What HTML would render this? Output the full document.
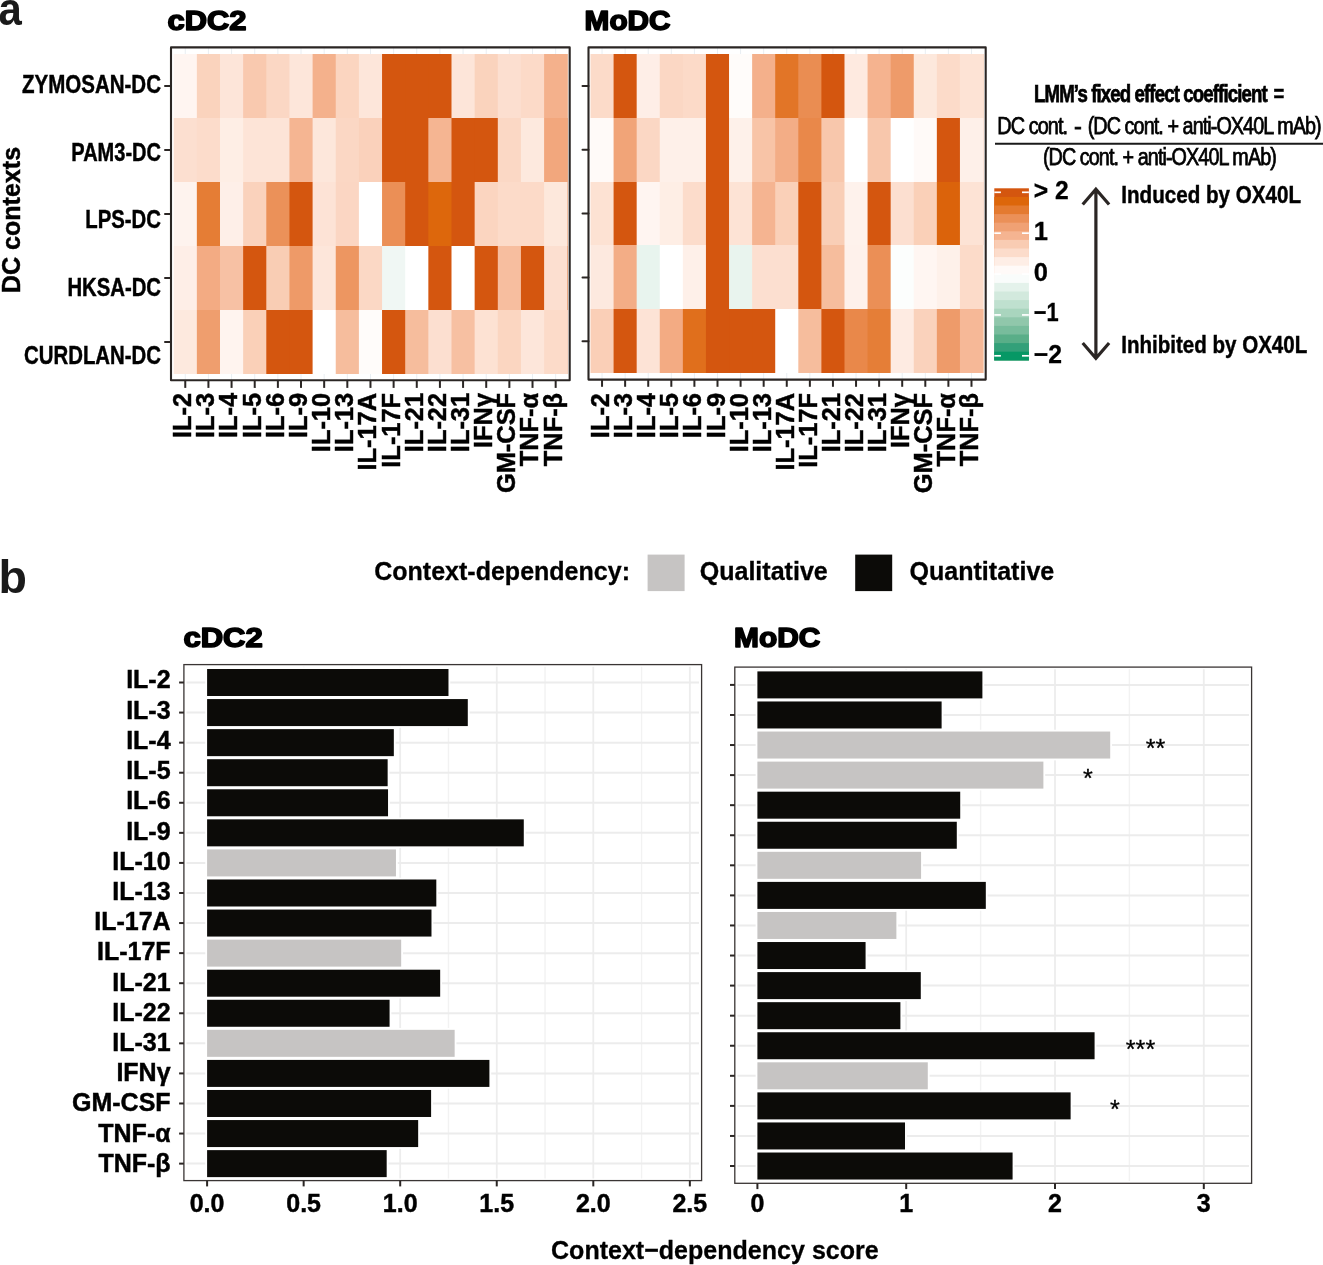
<!DOCTYPE html>
<html><head><meta charset="utf-8"><title>Figure</title>
<style>
html,body{margin:0;padding:0;background:#fff;}
body{width:1323px;height:1265px;overflow:hidden;font-family:"Liberation Sans",sans-serif;}
svg{display:block;font-family:"Liberation Sans",sans-serif;will-change:transform;}
</style></head><body>
<svg width="1323" height="1265" viewBox="0 0 1323 1265">
<rect x="0" y="0" width="1323" height="1265" fill="#fff"/>
<rect x="171.0" y="47.4" width="398.70000000000005" height="332.90000000000003" fill="#fff"/>
<line x1="185.27" y1="47.4" x2="185.27" y2="380.3" stroke="#E9EEF2" stroke-width="1"/>
<line x1="208.42" y1="47.4" x2="208.42" y2="380.3" stroke="#E9EEF2" stroke-width="1"/>
<line x1="231.57" y1="47.4" x2="231.57" y2="380.3" stroke="#E9EEF2" stroke-width="1"/>
<line x1="254.72" y1="47.4" x2="254.72" y2="380.3" stroke="#E9EEF2" stroke-width="1"/>
<line x1="277.88" y1="47.4" x2="277.88" y2="380.3" stroke="#E9EEF2" stroke-width="1"/>
<line x1="301.02" y1="47.4" x2="301.02" y2="380.3" stroke="#E9EEF2" stroke-width="1"/>
<line x1="324.17" y1="47.4" x2="324.17" y2="380.3" stroke="#E9EEF2" stroke-width="1"/>
<line x1="347.32" y1="47.4" x2="347.32" y2="380.3" stroke="#E9EEF2" stroke-width="1"/>
<line x1="370.47" y1="47.4" x2="370.47" y2="380.3" stroke="#E9EEF2" stroke-width="1"/>
<line x1="393.62" y1="47.4" x2="393.62" y2="380.3" stroke="#E9EEF2" stroke-width="1"/>
<line x1="416.77" y1="47.4" x2="416.77" y2="380.3" stroke="#E9EEF2" stroke-width="1"/>
<line x1="439.92" y1="47.4" x2="439.92" y2="380.3" stroke="#E9EEF2" stroke-width="1"/>
<line x1="463.07" y1="47.4" x2="463.07" y2="380.3" stroke="#E9EEF2" stroke-width="1"/>
<line x1="486.22" y1="47.4" x2="486.22" y2="380.3" stroke="#E9EEF2" stroke-width="1"/>
<line x1="509.37" y1="47.4" x2="509.37" y2="380.3" stroke="#E9EEF2" stroke-width="1"/>
<line x1="532.52" y1="47.4" x2="532.52" y2="380.3" stroke="#E9EEF2" stroke-width="1"/>
<line x1="555.67" y1="47.4" x2="555.67" y2="380.3" stroke="#E9EEF2" stroke-width="1"/>
<rect x="173.70" y="54" width="393.55" height="64" fill="#FFF5F1"/>
<rect x="196.85" y="54" width="370.40" height="64" fill="#FAD3BD"/>
<rect x="220.00" y="54" width="347.25" height="64" fill="#FDE5D9"/>
<rect x="243.15" y="54" width="324.10" height="64" fill="#F9C9AF"/>
<rect x="266.30" y="54" width="300.95" height="64" fill="#FBD7C4"/>
<rect x="289.45" y="54" width="277.80" height="64" fill="#FDE6DA"/>
<rect x="312.60" y="54" width="254.65" height="64" fill="#F4B18C"/>
<rect x="335.75" y="54" width="231.50" height="64" fill="#FBD5C0"/>
<rect x="358.90" y="54" width="208.35" height="64" fill="#FDE6DA"/>
<rect x="382.05" y="54" width="185.20" height="64" fill="#D4560F"/>
<rect x="405.20" y="54" width="162.05" height="64" fill="#D4560F"/>
<rect x="428.35" y="54" width="138.90" height="64" fill="#D4560F"/>
<rect x="451.50" y="54" width="115.75" height="64" fill="#FDE5D9"/>
<rect x="474.65" y="54" width="92.60" height="64" fill="#FAD3BD"/>
<rect x="497.80" y="54" width="69.45" height="64" fill="#FCDFD0"/>
<rect x="520.95" y="54" width="46.30" height="64" fill="#FCDAC8"/>
<rect x="544.10" y="54" width="23.15" height="64" fill="#F4B18C"/>
<rect x="173.70" y="118" width="393.55" height="64" fill="#FCDFD0"/>
<rect x="196.85" y="118" width="370.40" height="64" fill="#FCDCCB"/>
<rect x="220.00" y="118" width="347.25" height="64" fill="#FEEEE5"/>
<rect x="243.15" y="118" width="324.10" height="64" fill="#FDE4D7"/>
<rect x="266.30" y="118" width="300.95" height="64" fill="#FDE4D7"/>
<rect x="289.45" y="118" width="277.80" height="64" fill="#F5B592"/>
<rect x="312.60" y="118" width="254.65" height="64" fill="#FDE7DB"/>
<rect x="335.75" y="118" width="231.50" height="64" fill="#FBD7C4"/>
<rect x="358.90" y="118" width="208.35" height="64" fill="#FAD1BB"/>
<rect x="382.05" y="118" width="185.20" height="64" fill="#D4560F"/>
<rect x="405.20" y="118" width="162.05" height="64" fill="#D4560F"/>
<rect x="428.35" y="118" width="138.90" height="64" fill="#F5B592"/>
<rect x="451.50" y="118" width="115.75" height="64" fill="#D4560F"/>
<rect x="474.65" y="118" width="92.60" height="64" fill="#D4560F"/>
<rect x="497.80" y="118" width="69.45" height="64" fill="#FBD8C5"/>
<rect x="520.95" y="118" width="46.30" height="64" fill="#FDE9DE"/>
<rect x="544.10" y="118" width="23.15" height="64" fill="#F2A77D"/>
<rect x="173.70" y="182" width="393.55" height="64" fill="#FEF3EE"/>
<rect x="196.85" y="182" width="370.40" height="64" fill="#E57D35"/>
<rect x="220.00" y="182" width="347.25" height="64" fill="#FEEFE8"/>
<rect x="243.15" y="182" width="324.10" height="64" fill="#FAD2BC"/>
<rect x="266.30" y="182" width="300.95" height="64" fill="#EB9159"/>
<rect x="289.45" y="182" width="277.80" height="64" fill="#D4560F"/>
<rect x="312.60" y="182" width="254.65" height="64" fill="#FDE3D6"/>
<rect x="335.75" y="182" width="231.50" height="64" fill="#FBD6C3"/>
<rect x="358.90" y="182" width="208.35" height="64" fill="#FFFFFF"/>
<rect x="382.05" y="182" width="185.20" height="64" fill="#EB8F56"/>
<rect x="405.20" y="182" width="162.05" height="64" fill="#D4560F"/>
<rect x="428.35" y="182" width="138.90" height="64" fill="#DD670C"/>
<rect x="451.50" y="182" width="115.75" height="64" fill="#D4560F"/>
<rect x="474.65" y="182" width="92.60" height="64" fill="#FBD5C0"/>
<rect x="497.80" y="182" width="69.45" height="64" fill="#FCDBC9"/>
<rect x="520.95" y="182" width="46.30" height="64" fill="#FCDAC8"/>
<rect x="544.10" y="182" width="23.15" height="64" fill="#FDE8DC"/>
<rect x="173.70" y="246" width="393.55" height="64" fill="#FEEEE7"/>
<rect x="196.85" y="246" width="370.40" height="64" fill="#F3AB83"/>
<rect x="220.00" y="246" width="347.25" height="64" fill="#F7C1A4"/>
<rect x="243.15" y="246" width="324.10" height="64" fill="#D4560F"/>
<rect x="266.30" y="246" width="300.95" height="64" fill="#F9CDB4"/>
<rect x="289.45" y="246" width="277.80" height="64" fill="#EE9A68"/>
<rect x="312.60" y="246" width="254.65" height="64" fill="#FDE6DA"/>
<rect x="335.75" y="246" width="231.50" height="64" fill="#ED9661"/>
<rect x="358.90" y="246" width="208.35" height="64" fill="#FBD8C5"/>
<rect x="382.05" y="246" width="185.20" height="64" fill="#F0F7F4"/>
<rect x="405.20" y="246" width="162.05" height="64" fill="#FFFFFF"/>
<rect x="428.35" y="246" width="138.90" height="64" fill="#D4560F"/>
<rect x="451.50" y="246" width="115.75" height="64" fill="#FFFFFF"/>
<rect x="474.65" y="246" width="92.60" height="64" fill="#D4560F"/>
<rect x="497.80" y="246" width="69.45" height="64" fill="#F7BE9F"/>
<rect x="520.95" y="246" width="46.30" height="64" fill="#D4560F"/>
<rect x="544.10" y="246" width="23.15" height="64" fill="#FCDFD0"/>
<rect x="173.70" y="310" width="393.55" height="64" fill="#FDE9DE"/>
<rect x="196.85" y="310" width="370.40" height="64" fill="#EF9E6E"/>
<rect x="220.00" y="310" width="347.25" height="64" fill="#FFF4EF"/>
<rect x="243.15" y="310" width="324.10" height="64" fill="#FAD0B8"/>
<rect x="266.30" y="310" width="300.95" height="64" fill="#D4560F"/>
<rect x="289.45" y="310" width="277.80" height="64" fill="#D4560F"/>
<rect x="312.60" y="310" width="254.65" height="64" fill="#FFFFFF"/>
<rect x="335.75" y="310" width="231.50" height="64" fill="#F6BD9D"/>
<rect x="358.90" y="310" width="208.35" height="64" fill="#FFFCFA"/>
<rect x="382.05" y="310" width="185.20" height="64" fill="#D4560F"/>
<rect x="405.20" y="310" width="162.05" height="64" fill="#F6BD9D"/>
<rect x="428.35" y="310" width="138.90" height="64" fill="#FCDFD0"/>
<rect x="451.50" y="310" width="115.75" height="64" fill="#F7C0A2"/>
<rect x="474.65" y="310" width="92.60" height="64" fill="#FDE2D3"/>
<rect x="497.80" y="310" width="69.45" height="64" fill="#FBD6C1"/>
<rect x="520.95" y="310" width="46.30" height="64" fill="#FDE6DA"/>
<rect x="544.10" y="310" width="23.15" height="64" fill="#FCDBC9"/>
<rect x="171.0" y="47.4" width="398.70000000000005" height="332.90000000000003" fill="none" stroke="#2B2624" stroke-width="2.1" stroke-linejoin="round"/>
<line x1="165.0" y1="86.10" x2="171.0" y2="86.10" stroke="#2B2624" stroke-width="2" stroke-linecap="round"/>
<line x1="165.0" y1="150.10" x2="171.0" y2="150.10" stroke="#2B2624" stroke-width="2" stroke-linecap="round"/>
<line x1="165.0" y1="214.10" x2="171.0" y2="214.10" stroke="#2B2624" stroke-width="2" stroke-linecap="round"/>
<line x1="165.0" y1="278.10" x2="171.0" y2="278.10" stroke="#2B2624" stroke-width="2" stroke-linecap="round"/>
<line x1="165.0" y1="342.10" x2="171.0" y2="342.10" stroke="#2B2624" stroke-width="2" stroke-linecap="round"/>
<line x1="185.27" y1="380.3" x2="185.27" y2="387.90000000000003" stroke="#2B2624" stroke-width="2"/>
<text x="191.17" y="392.90" font-size="25.4" font-weight="bold" text-anchor="end" fill="#000" transform="rotate(-90 191.17 392.90)" stroke="#000" stroke-width="0.45">IL-2</text>
<line x1="208.42" y1="380.3" x2="208.42" y2="387.90000000000003" stroke="#2B2624" stroke-width="2"/>
<text x="214.32" y="392.90" font-size="25.4" font-weight="bold" text-anchor="end" fill="#000" transform="rotate(-90 214.32 392.90)" stroke="#000" stroke-width="0.45">IL-3</text>
<line x1="231.57" y1="380.3" x2="231.57" y2="387.90000000000003" stroke="#2B2624" stroke-width="2"/>
<text x="237.47" y="392.90" font-size="25.4" font-weight="bold" text-anchor="end" fill="#000" transform="rotate(-90 237.47 392.90)" stroke="#000" stroke-width="0.45">IL-4</text>
<line x1="254.72" y1="380.3" x2="254.72" y2="387.90000000000003" stroke="#2B2624" stroke-width="2"/>
<text x="260.62" y="392.90" font-size="25.4" font-weight="bold" text-anchor="end" fill="#000" transform="rotate(-90 260.62 392.90)" stroke="#000" stroke-width="0.45">IL-5</text>
<line x1="277.88" y1="380.3" x2="277.88" y2="387.90000000000003" stroke="#2B2624" stroke-width="2"/>
<text x="283.77" y="392.90" font-size="25.4" font-weight="bold" text-anchor="end" fill="#000" transform="rotate(-90 283.77 392.90)" stroke="#000" stroke-width="0.45">IL-6</text>
<line x1="301.02" y1="380.3" x2="301.02" y2="387.90000000000003" stroke="#2B2624" stroke-width="2"/>
<text x="306.92" y="392.90" font-size="25.4" font-weight="bold" text-anchor="end" fill="#000" transform="rotate(-90 306.92 392.90)" stroke="#000" stroke-width="0.45">IL-9</text>
<line x1="324.17" y1="380.3" x2="324.17" y2="387.90000000000003" stroke="#2B2624" stroke-width="2"/>
<text x="330.07" y="392.90" font-size="25.4" font-weight="bold" text-anchor="end" fill="#000" transform="rotate(-90 330.07 392.90)" stroke="#000" stroke-width="0.45">IL-10</text>
<line x1="347.32" y1="380.3" x2="347.32" y2="387.90000000000003" stroke="#2B2624" stroke-width="2"/>
<text x="353.22" y="392.90" font-size="25.4" font-weight="bold" text-anchor="end" fill="#000" transform="rotate(-90 353.22 392.90)" stroke="#000" stroke-width="0.45">IL-13</text>
<line x1="370.47" y1="380.3" x2="370.47" y2="387.90000000000003" stroke="#2B2624" stroke-width="2"/>
<text x="376.37" y="392.90" font-size="25.4" font-weight="bold" text-anchor="end" fill="#000" transform="rotate(-90 376.37 392.90)" stroke="#000" stroke-width="0.45">IL-17A</text>
<line x1="393.62" y1="380.3" x2="393.62" y2="387.90000000000003" stroke="#2B2624" stroke-width="2"/>
<text x="399.52" y="392.90" font-size="25.4" font-weight="bold" text-anchor="end" fill="#000" transform="rotate(-90 399.52 392.90)" stroke="#000" stroke-width="0.45">IL-17F</text>
<line x1="416.77" y1="380.3" x2="416.77" y2="387.90000000000003" stroke="#2B2624" stroke-width="2"/>
<text x="422.67" y="392.90" font-size="25.4" font-weight="bold" text-anchor="end" fill="#000" transform="rotate(-90 422.67 392.90)" stroke="#000" stroke-width="0.45">IL-21</text>
<line x1="439.92" y1="380.3" x2="439.92" y2="387.90000000000003" stroke="#2B2624" stroke-width="2"/>
<text x="445.82" y="392.90" font-size="25.4" font-weight="bold" text-anchor="end" fill="#000" transform="rotate(-90 445.82 392.90)" stroke="#000" stroke-width="0.45">IL-22</text>
<line x1="463.07" y1="380.3" x2="463.07" y2="387.90000000000003" stroke="#2B2624" stroke-width="2"/>
<text x="468.97" y="392.90" font-size="25.4" font-weight="bold" text-anchor="end" fill="#000" transform="rotate(-90 468.97 392.90)" stroke="#000" stroke-width="0.45">IL-31</text>
<line x1="486.22" y1="380.3" x2="486.22" y2="387.90000000000003" stroke="#2B2624" stroke-width="2"/>
<text x="492.12" y="392.90" font-size="25.4" font-weight="bold" text-anchor="end" fill="#000" transform="rotate(-90 492.12 392.90)" stroke="#000" stroke-width="0.45">IFNγ</text>
<line x1="509.37" y1="380.3" x2="509.37" y2="387.90000000000003" stroke="#2B2624" stroke-width="2"/>
<text x="515.27" y="392.90" font-size="25.4" font-weight="bold" text-anchor="end" fill="#000" transform="rotate(-90 515.27 392.90)" stroke="#000" stroke-width="0.45">GM-CSF</text>
<line x1="532.52" y1="380.3" x2="532.52" y2="387.90000000000003" stroke="#2B2624" stroke-width="2"/>
<text x="538.42" y="392.90" font-size="25.4" font-weight="bold" text-anchor="end" fill="#000" transform="rotate(-90 538.42 392.90)" stroke="#000" stroke-width="0.45">TNF-α</text>
<line x1="555.67" y1="380.3" x2="555.67" y2="387.90000000000003" stroke="#2B2624" stroke-width="2"/>
<text x="561.57" y="392.90" font-size="25.4" font-weight="bold" text-anchor="end" fill="#000" transform="rotate(-90 561.57 392.90)" stroke="#000" stroke-width="0.45">TNF-β</text>
<rect x="588.5" y="47.4" width="397.20000000000005" height="332.20000000000005" fill="#fff"/>
<line x1="602.04" y1="47.4" x2="602.04" y2="379.6" stroke="#E9EEF2" stroke-width="1"/>
<line x1="625.13" y1="47.4" x2="625.13" y2="379.6" stroke="#E9EEF2" stroke-width="1"/>
<line x1="648.23" y1="47.4" x2="648.23" y2="379.6" stroke="#E9EEF2" stroke-width="1"/>
<line x1="671.32" y1="47.4" x2="671.32" y2="379.6" stroke="#E9EEF2" stroke-width="1"/>
<line x1="694.40" y1="47.4" x2="694.40" y2="379.6" stroke="#E9EEF2" stroke-width="1"/>
<line x1="717.50" y1="47.4" x2="717.50" y2="379.6" stroke="#E9EEF2" stroke-width="1"/>
<line x1="740.59" y1="47.4" x2="740.59" y2="379.6" stroke="#E9EEF2" stroke-width="1"/>
<line x1="763.67" y1="47.4" x2="763.67" y2="379.6" stroke="#E9EEF2" stroke-width="1"/>
<line x1="786.76" y1="47.4" x2="786.76" y2="379.6" stroke="#E9EEF2" stroke-width="1"/>
<line x1="809.86" y1="47.4" x2="809.86" y2="379.6" stroke="#E9EEF2" stroke-width="1"/>
<line x1="832.94" y1="47.4" x2="832.94" y2="379.6" stroke="#E9EEF2" stroke-width="1"/>
<line x1="856.04" y1="47.4" x2="856.04" y2="379.6" stroke="#E9EEF2" stroke-width="1"/>
<line x1="879.12" y1="47.4" x2="879.12" y2="379.6" stroke="#E9EEF2" stroke-width="1"/>
<line x1="902.21" y1="47.4" x2="902.21" y2="379.6" stroke="#E9EEF2" stroke-width="1"/>
<line x1="925.31" y1="47.4" x2="925.31" y2="379.6" stroke="#E9EEF2" stroke-width="1"/>
<line x1="948.39" y1="47.4" x2="948.39" y2="379.6" stroke="#E9EEF2" stroke-width="1"/>
<line x1="971.49" y1="47.4" x2="971.49" y2="379.6" stroke="#E9EEF2" stroke-width="1"/>
<rect x="590.50" y="54" width="392.53" height="64" fill="#FCDBC9"/>
<rect x="613.59" y="54" width="369.44" height="64" fill="#D4560F"/>
<rect x="636.68" y="54" width="346.35" height="64" fill="#FEEEE7"/>
<rect x="659.77" y="54" width="323.26" height="64" fill="#FBD7C4"/>
<rect x="682.86" y="54" width="300.17" height="64" fill="#FCDAC8"/>
<rect x="705.95" y="54" width="277.08" height="64" fill="#D4560F"/>
<rect x="729.04" y="54" width="253.99" height="64" fill="#FFFCFA"/>
<rect x="752.13" y="54" width="230.90" height="64" fill="#F4B08B"/>
<rect x="775.22" y="54" width="207.81" height="64" fill="#E27527"/>
<rect x="798.31" y="54" width="184.72" height="64" fill="#EA8D52"/>
<rect x="821.40" y="54" width="161.63" height="64" fill="#D4560F"/>
<rect x="844.49" y="54" width="138.54" height="64" fill="#FEEAE0"/>
<rect x="867.58" y="54" width="115.45" height="64" fill="#F5B38F"/>
<rect x="890.67" y="54" width="92.36" height="64" fill="#EE9B6A"/>
<rect x="913.76" y="54" width="69.27" height="64" fill="#FDE8DC"/>
<rect x="936.85" y="54" width="46.18" height="64" fill="#FCDBC9"/>
<rect x="959.94" y="54" width="23.09" height="64" fill="#FDE3D5"/>
<rect x="590.50" y="118" width="392.53" height="64" fill="#FFFAF8"/>
<rect x="613.59" y="118" width="369.44" height="64" fill="#F1A478"/>
<rect x="636.68" y="118" width="346.35" height="64" fill="#FBD7C4"/>
<rect x="659.77" y="118" width="323.26" height="64" fill="#FEF0E9"/>
<rect x="682.86" y="118" width="300.17" height="64" fill="#FEF0E9"/>
<rect x="705.95" y="118" width="277.08" height="64" fill="#D4560F"/>
<rect x="729.04" y="118" width="253.99" height="64" fill="#FEF1EA"/>
<rect x="752.13" y="118" width="230.90" height="64" fill="#F8C4A7"/>
<rect x="775.22" y="118" width="207.81" height="64" fill="#F3AD86"/>
<rect x="798.31" y="118" width="184.72" height="64" fill="#E9884A"/>
<rect x="821.40" y="118" width="161.63" height="64" fill="#F8C7AC"/>
<rect x="844.49" y="118" width="138.54" height="64" fill="#FFFFFF"/>
<rect x="867.58" y="118" width="115.45" height="64" fill="#F8C7AC"/>
<rect x="890.67" y="118" width="92.36" height="64" fill="#FFFFFF"/>
<rect x="913.76" y="118" width="69.27" height="64" fill="#FFFAF8"/>
<rect x="936.85" y="118" width="46.18" height="64" fill="#D4560F"/>
<rect x="959.94" y="118" width="23.09" height="64" fill="#FEF0E9"/>
<rect x="590.50" y="182" width="392.53" height="63" fill="#FDE2D3"/>
<rect x="613.59" y="182" width="369.44" height="63" fill="#D4560F"/>
<rect x="636.68" y="182" width="346.35" height="63" fill="#FFF5F1"/>
<rect x="659.77" y="182" width="323.26" height="63" fill="#FEEEE5"/>
<rect x="682.86" y="182" width="300.17" height="63" fill="#FCDCCB"/>
<rect x="705.95" y="182" width="277.08" height="63" fill="#D4560F"/>
<rect x="729.04" y="182" width="253.99" height="63" fill="#FDE3D5"/>
<rect x="752.13" y="182" width="230.90" height="63" fill="#F5B491"/>
<rect x="775.22" y="182" width="207.81" height="63" fill="#FAD0B8"/>
<rect x="798.31" y="182" width="184.72" height="63" fill="#D4560F"/>
<rect x="821.40" y="182" width="161.63" height="63" fill="#F9CEB6"/>
<rect x="844.49" y="182" width="138.54" height="63" fill="#FEF2EC"/>
<rect x="867.58" y="182" width="115.45" height="63" fill="#D4560F"/>
<rect x="890.67" y="182" width="92.36" height="63" fill="#FCDFD0"/>
<rect x="913.76" y="182" width="69.27" height="63" fill="#FAD0B8"/>
<rect x="936.85" y="182" width="46.18" height="63" fill="#DB630B"/>
<rect x="959.94" y="182" width="23.09" height="63" fill="#FDE3D5"/>
<rect x="590.50" y="245" width="392.53" height="64" fill="#FDE9DF"/>
<rect x="613.59" y="245" width="369.44" height="64" fill="#F3AD86"/>
<rect x="636.68" y="245" width="346.35" height="64" fill="#E8F4EE"/>
<rect x="659.77" y="245" width="323.26" height="64" fill="#FFFFFF"/>
<rect x="682.86" y="245" width="300.17" height="64" fill="#FEF0E9"/>
<rect x="705.95" y="245" width="277.08" height="64" fill="#D4560F"/>
<rect x="729.04" y="245" width="253.99" height="64" fill="#E9F4EE"/>
<rect x="752.13" y="245" width="230.90" height="64" fill="#FCDFD0"/>
<rect x="775.22" y="245" width="207.81" height="64" fill="#FCDFD0"/>
<rect x="798.31" y="245" width="184.72" height="64" fill="#D4560F"/>
<rect x="821.40" y="245" width="161.63" height="64" fill="#F6BD9D"/>
<rect x="844.49" y="245" width="138.54" height="64" fill="#FEF1EB"/>
<rect x="867.58" y="245" width="115.45" height="64" fill="#EB8F56"/>
<rect x="890.67" y="245" width="92.36" height="64" fill="#FCFEFD"/>
<rect x="913.76" y="245" width="69.27" height="64" fill="#FFF6F2"/>
<rect x="936.85" y="245" width="46.18" height="64" fill="#FEF1EA"/>
<rect x="959.94" y="245" width="23.09" height="64" fill="#FCDBC9"/>
<rect x="590.50" y="309" width="392.53" height="64" fill="#FACFB7"/>
<rect x="613.59" y="309" width="369.44" height="64" fill="#D4560F"/>
<rect x="636.68" y="309" width="346.35" height="64" fill="#FDE3D6"/>
<rect x="659.77" y="309" width="323.26" height="64" fill="#F3AB83"/>
<rect x="682.86" y="309" width="300.17" height="64" fill="#E06F1C"/>
<rect x="705.95" y="309" width="277.08" height="64" fill="#D4560F"/>
<rect x="729.04" y="309" width="253.99" height="64" fill="#D4560F"/>
<rect x="752.13" y="309" width="230.90" height="64" fill="#D4560F"/>
<rect x="775.22" y="309" width="207.81" height="64" fill="#FFFFFF"/>
<rect x="798.31" y="309" width="184.72" height="64" fill="#F6BD9D"/>
<rect x="821.40" y="309" width="161.63" height="64" fill="#D4560F"/>
<rect x="844.49" y="309" width="138.54" height="64" fill="#E9884A"/>
<rect x="867.58" y="309" width="115.45" height="64" fill="#E57E37"/>
<rect x="890.67" y="309" width="92.36" height="64" fill="#FEEBE2"/>
<rect x="913.76" y="309" width="69.27" height="64" fill="#FAD2BC"/>
<rect x="936.85" y="309" width="46.18" height="64" fill="#EE9B6A"/>
<rect x="959.94" y="309" width="23.09" height="64" fill="#F6B897"/>
<rect x="588.5" y="47.4" width="397.20000000000005" height="332.20000000000005" fill="none" stroke="#2B2624" stroke-width="2.1" stroke-linejoin="round"/>
<line x1="582.5" y1="86.00" x2="588.5" y2="86.00" stroke="#2B2624" stroke-width="2" stroke-linecap="round"/>
<line x1="582.5" y1="149.80" x2="588.5" y2="149.80" stroke="#2B2624" stroke-width="2" stroke-linecap="round"/>
<line x1="582.5" y1="213.60" x2="588.5" y2="213.60" stroke="#2B2624" stroke-width="2" stroke-linecap="round"/>
<line x1="582.5" y1="277.40" x2="588.5" y2="277.40" stroke="#2B2624" stroke-width="2" stroke-linecap="round"/>
<line x1="582.5" y1="341.20" x2="588.5" y2="341.20" stroke="#2B2624" stroke-width="2" stroke-linecap="round"/>
<line x1="602.04" y1="379.6" x2="602.04" y2="386.8" stroke="#2B2624" stroke-width="2"/>
<text x="609.04" y="393.00" font-size="25.4" font-weight="bold" text-anchor="end" fill="#000" transform="rotate(-90 609.04 393.00)" stroke="#000" stroke-width="0.45">IL-2</text>
<line x1="625.13" y1="379.6" x2="625.13" y2="386.8" stroke="#2B2624" stroke-width="2"/>
<text x="632.13" y="393.00" font-size="25.4" font-weight="bold" text-anchor="end" fill="#000" transform="rotate(-90 632.13 393.00)" stroke="#000" stroke-width="0.45">IL-3</text>
<line x1="648.23" y1="379.6" x2="648.23" y2="386.8" stroke="#2B2624" stroke-width="2"/>
<text x="655.23" y="393.00" font-size="25.4" font-weight="bold" text-anchor="end" fill="#000" transform="rotate(-90 655.23 393.00)" stroke="#000" stroke-width="0.45">IL-4</text>
<line x1="671.32" y1="379.6" x2="671.32" y2="386.8" stroke="#2B2624" stroke-width="2"/>
<text x="678.32" y="393.00" font-size="25.4" font-weight="bold" text-anchor="end" fill="#000" transform="rotate(-90 678.32 393.00)" stroke="#000" stroke-width="0.45">IL-5</text>
<line x1="694.40" y1="379.6" x2="694.40" y2="386.8" stroke="#2B2624" stroke-width="2"/>
<text x="701.40" y="393.00" font-size="25.4" font-weight="bold" text-anchor="end" fill="#000" transform="rotate(-90 701.40 393.00)" stroke="#000" stroke-width="0.45">IL-6</text>
<line x1="717.50" y1="379.6" x2="717.50" y2="386.8" stroke="#2B2624" stroke-width="2"/>
<text x="724.50" y="393.00" font-size="25.4" font-weight="bold" text-anchor="end" fill="#000" transform="rotate(-90 724.50 393.00)" stroke="#000" stroke-width="0.45">IL-9</text>
<line x1="740.59" y1="379.6" x2="740.59" y2="386.8" stroke="#2B2624" stroke-width="2"/>
<text x="747.59" y="393.00" font-size="25.4" font-weight="bold" text-anchor="end" fill="#000" transform="rotate(-90 747.59 393.00)" stroke="#000" stroke-width="0.45">IL-10</text>
<line x1="763.67" y1="379.6" x2="763.67" y2="386.8" stroke="#2B2624" stroke-width="2"/>
<text x="770.67" y="393.00" font-size="25.4" font-weight="bold" text-anchor="end" fill="#000" transform="rotate(-90 770.67 393.00)" stroke="#000" stroke-width="0.45">IL-13</text>
<line x1="786.76" y1="379.6" x2="786.76" y2="386.8" stroke="#2B2624" stroke-width="2"/>
<text x="793.76" y="393.00" font-size="25.4" font-weight="bold" text-anchor="end" fill="#000" transform="rotate(-90 793.76 393.00)" stroke="#000" stroke-width="0.45">IL-17A</text>
<line x1="809.86" y1="379.6" x2="809.86" y2="386.8" stroke="#2B2624" stroke-width="2"/>
<text x="816.86" y="393.00" font-size="25.4" font-weight="bold" text-anchor="end" fill="#000" transform="rotate(-90 816.86 393.00)" stroke="#000" stroke-width="0.45">IL-17F</text>
<line x1="832.94" y1="379.6" x2="832.94" y2="386.8" stroke="#2B2624" stroke-width="2"/>
<text x="839.94" y="393.00" font-size="25.4" font-weight="bold" text-anchor="end" fill="#000" transform="rotate(-90 839.94 393.00)" stroke="#000" stroke-width="0.45">IL-21</text>
<line x1="856.04" y1="379.6" x2="856.04" y2="386.8" stroke="#2B2624" stroke-width="2"/>
<text x="863.04" y="393.00" font-size="25.4" font-weight="bold" text-anchor="end" fill="#000" transform="rotate(-90 863.04 393.00)" stroke="#000" stroke-width="0.45">IL-22</text>
<line x1="879.12" y1="379.6" x2="879.12" y2="386.8" stroke="#2B2624" stroke-width="2"/>
<text x="886.12" y="393.00" font-size="25.4" font-weight="bold" text-anchor="end" fill="#000" transform="rotate(-90 886.12 393.00)" stroke="#000" stroke-width="0.45">IL-31</text>
<line x1="902.21" y1="379.6" x2="902.21" y2="386.8" stroke="#2B2624" stroke-width="2"/>
<text x="909.21" y="393.00" font-size="25.4" font-weight="bold" text-anchor="end" fill="#000" transform="rotate(-90 909.21 393.00)" stroke="#000" stroke-width="0.45">IFNγ</text>
<line x1="925.31" y1="379.6" x2="925.31" y2="386.8" stroke="#2B2624" stroke-width="2"/>
<text x="932.31" y="393.00" font-size="25.4" font-weight="bold" text-anchor="end" fill="#000" transform="rotate(-90 932.31 393.00)" stroke="#000" stroke-width="0.45">GM-CSF</text>
<line x1="948.39" y1="379.6" x2="948.39" y2="386.8" stroke="#2B2624" stroke-width="2"/>
<text x="955.39" y="393.00" font-size="25.4" font-weight="bold" text-anchor="end" fill="#000" transform="rotate(-90 955.39 393.00)" stroke="#000" stroke-width="0.45">TNF-α</text>
<line x1="971.49" y1="379.6" x2="971.49" y2="386.8" stroke="#2B2624" stroke-width="2"/>
<text x="978.49" y="393.00" font-size="25.4" font-weight="bold" text-anchor="end" fill="#000" transform="rotate(-90 978.49 393.00)" stroke="#000" stroke-width="0.45">TNF-β</text>
<text x="161.00" y="92.80" font-size="25.3" font-weight="bold" text-anchor="end" fill="#000" textLength="139.00" lengthAdjust="spacingAndGlyphs" stroke="#000" stroke-width="0.45">ZYMOSAN-DC</text>
<text x="161.00" y="160.50" font-size="25.3" font-weight="bold" text-anchor="end" fill="#000" textLength="89.70" lengthAdjust="spacingAndGlyphs" stroke="#000" stroke-width="0.45">PAM3-DC</text>
<text x="161.00" y="228.30" font-size="25.3" font-weight="bold" text-anchor="end" fill="#000" textLength="75.70" lengthAdjust="spacingAndGlyphs" stroke="#000" stroke-width="0.45">LPS-DC</text>
<text x="161.00" y="296.30" font-size="25.3" font-weight="bold" text-anchor="end" fill="#000" textLength="93.60" lengthAdjust="spacingAndGlyphs" stroke="#000" stroke-width="0.45">HKSA-DC</text>
<text x="161.00" y="363.50" font-size="25.3" font-weight="bold" text-anchor="end" fill="#000" textLength="137.00" lengthAdjust="spacingAndGlyphs" stroke="#000" stroke-width="0.45">CURDLAN-DC</text>
<text x="20.20" y="293.20" font-size="26" font-weight="bold" text-anchor="start" fill="#000" textLength="146.30" lengthAdjust="spacingAndGlyphs" transform="rotate(-90 20.20 293.20)" stroke="#000" stroke-width="0.45">DC contexts</text>
<text x="-1.40" y="25.20" font-size="46.5" font-weight="bold" text-anchor="start" fill="#1a1a1a" textLength="23.30" lengthAdjust="spacingAndGlyphs">a</text>
<text x="-1.50" y="593.00" font-size="46.5" font-weight="bold" text-anchor="start" fill="#1a1a1a">b</text>
<text x="167.60" y="30.40" font-size="27" font-weight="bold" text-anchor="start" fill="#000" textLength="78.80" lengthAdjust="spacingAndGlyphs" stroke="#000" stroke-width="1.6" stroke-linejoin="round">cDC2</text>
<text x="584.60" y="30.40" font-size="27" font-weight="bold" text-anchor="start" fill="#000" textLength="86.00" lengthAdjust="spacingAndGlyphs" stroke="#000" stroke-width="1.6" stroke-linejoin="round">MoDC</text>
<text x="183.40" y="647.30" font-size="27" font-weight="bold" text-anchor="start" fill="#000" textLength="79.30" lengthAdjust="spacingAndGlyphs" stroke="#000" stroke-width="1.6" stroke-linejoin="round">cDC2</text>
<text x="734.10" y="647.00" font-size="27" font-weight="bold" text-anchor="start" fill="#000" textLength="86.30" lengthAdjust="spacingAndGlyphs" stroke="#000" stroke-width="1.6" stroke-linejoin="round">MoDC</text>
<text x="1034.00" y="101.50" font-size="23.5" font-weight="bold" text-anchor="start" fill="#000" textLength="232.80" lengthAdjust="spacingAndGlyphs" stroke="#000" stroke-width="0.75" letter-spacing="-1.1">LMM’s fixed effect coefficient</text>
<text x="1273.60" y="101.50" font-size="23.5" font-weight="bold" text-anchor="start" fill="#000" textLength="10.80" lengthAdjust="spacingAndGlyphs" stroke="#000" stroke-width="0.45">=</text>
<text x="997.30" y="133.90" font-size="23.5" font-weight="normal" text-anchor="start" fill="#000" textLength="69.80" lengthAdjust="spacingAndGlyphs" stroke="#000" stroke-width="0.75" letter-spacing="-1.1">DC cont.</text>
<text x="1078.00" y="133.90" font-size="23.5" font-weight="normal" text-anchor="middle" fill="#000" stroke="#000" stroke-width="0.75">-</text>
<text x="1087.70" y="133.90" font-size="23.5" font-weight="normal" text-anchor="start" fill="#000" textLength="233.00" lengthAdjust="spacingAndGlyphs" stroke="#000" stroke-width="0.75" letter-spacing="-1.1">(DC cont. + anti-OX40L mAb)</text>
<line x1="995" y1="143.7" x2="1323" y2="143.7" stroke="#1a1a1a" stroke-width="1.9"/>
<text x="1042.90" y="165.00" font-size="23.5" font-weight="normal" text-anchor="start" fill="#000" textLength="233.00" lengthAdjust="spacingAndGlyphs" stroke="#000" stroke-width="0.75" letter-spacing="-1.1">(DC cont. + anti-OX40L mAb)</text>
<rect x="994.3" y="188.30" width="34.600000000000136" height="172.00" fill="#D4560F"/>
<rect x="994.3" y="196.90" width="34.600000000000136" height="163.40" fill="#DD660A"/>
<rect x="994.3" y="205.50" width="34.600000000000136" height="154.80" fill="#E47A30"/>
<rect x="994.3" y="214.10" width="34.600000000000136" height="146.20" fill="#EB9058"/>
<rect x="994.3" y="222.70" width="34.600000000000136" height="137.60" fill="#F0A174"/>
<rect x="994.3" y="231.30" width="34.600000000000136" height="129.00" fill="#F5B491"/>
<rect x="994.3" y="239.90" width="34.600000000000136" height="120.40" fill="#F9CCB3"/>
<rect x="994.3" y="248.50" width="34.600000000000136" height="111.80" fill="#FCDCCB"/>
<rect x="994.3" y="257.10" width="34.600000000000136" height="103.20" fill="#FEEEE6"/>
<rect x="994.3" y="265.70" width="34.600000000000136" height="94.60" fill="#FFFAF8"/>
<rect x="994.3" y="274.30" width="34.600000000000136" height="86.00" fill="#F9FCFB"/>
<rect x="994.3" y="282.90" width="34.600000000000136" height="77.40" fill="#E4F2EB"/>
<rect x="994.3" y="291.50" width="34.600000000000136" height="68.80" fill="#D2E9DD"/>
<rect x="994.3" y="300.10" width="34.600000000000136" height="60.20" fill="#BFE0CF"/>
<rect x="994.3" y="308.70" width="34.600000000000136" height="51.60" fill="#A9D5BE"/>
<rect x="994.3" y="317.30" width="34.600000000000136" height="43.00" fill="#90C7AB"/>
<rect x="994.3" y="325.90" width="34.600000000000136" height="34.40" fill="#78BC9C"/>
<rect x="994.3" y="334.50" width="34.600000000000136" height="25.80" fill="#59AE88"/>
<rect x="994.3" y="343.10" width="34.600000000000136" height="17.20" fill="#33A079"/>
<rect x="994.3" y="351.70" width="34.600000000000136" height="8.60" fill="#069865"/>
<line x1="994.3" y1="192.30" x2="1000.9" y2="192.30" stroke="#fff" stroke-width="1.7"/>
<line x1="1022.0000000000001" y1="192.30" x2="1028.9" y2="192.30" stroke="#fff" stroke-width="1.7"/>
<text x="1033.70" y="199.40" font-size="25.5" font-weight="bold" text-anchor="start" fill="#000" textLength="34.90" lengthAdjust="spacingAndGlyphs" stroke="#000" stroke-width="0.3">&gt; 2</text>
<line x1="994.3" y1="233.18" x2="1000.9" y2="233.18" stroke="#fff" stroke-width="1.7"/>
<line x1="1022.0000000000001" y1="233.18" x2="1028.9" y2="233.18" stroke="#fff" stroke-width="1.7"/>
<text x="1033.70" y="239.60" font-size="25.5" font-weight="bold" text-anchor="start" fill="#000" stroke="#000" stroke-width="0.3">1</text>
<line x1="994.3" y1="274.05" x2="1000.9" y2="274.05" stroke="#fff" stroke-width="1.7"/>
<line x1="1022.0000000000001" y1="274.05" x2="1028.9" y2="274.05" stroke="#fff" stroke-width="1.7"/>
<text x="1033.70" y="281.20" font-size="25.5" font-weight="bold" text-anchor="start" fill="#000" stroke="#000" stroke-width="0.3">0</text>
<line x1="994.3" y1="314.93" x2="1000.9" y2="314.93" stroke="#fff" stroke-width="1.7"/>
<line x1="1022.0000000000001" y1="314.93" x2="1028.9" y2="314.93" stroke="#fff" stroke-width="1.7"/>
<text x="1033.70" y="320.80" font-size="25.5" font-weight="bold" text-anchor="start" fill="#000" textLength="24.90" lengthAdjust="spacingAndGlyphs" stroke="#000" stroke-width="0.3">−1</text>
<line x1="994.3" y1="355.80" x2="1000.9" y2="355.80" stroke="#fff" stroke-width="1.7"/>
<line x1="1022.0000000000001" y1="355.80" x2="1028.9" y2="355.80" stroke="#fff" stroke-width="1.7"/>
<text x="1033.70" y="363.00" font-size="25.5" font-weight="bold" text-anchor="start" fill="#000" textLength="28.20" lengthAdjust="spacingAndGlyphs" stroke="#000" stroke-width="0.3">−2</text>
<path d="M1095.9 189.5 V358 M1082.7 204.5 L1095.9 189.3 L1109.1000000000001 204.5 M1082.7 343 L1095.9 358.2 L1109.1000000000001 343" fill="none" stroke="#2B2624" stroke-width="3.2" stroke-linejoin="miter"/>
<text x="1121.30" y="202.60" font-size="24.5" font-weight="bold" text-anchor="start" fill="#000" textLength="179.70" lengthAdjust="spacingAndGlyphs" stroke="#000" stroke-width="0.45">Induced by OX40L</text>
<text x="1121.30" y="353.00" font-size="24.5" font-weight="bold" text-anchor="start" fill="#000" textLength="185.90" lengthAdjust="spacingAndGlyphs" stroke="#000" stroke-width="0.45">Inhibited by OX40L</text>
<text x="374.20" y="579.80" font-size="25.5" font-weight="bold" text-anchor="start" fill="#000" textLength="255.80" lengthAdjust="spacingAndGlyphs" stroke="#000" stroke-width="0.3">Context-dependency:</text>
<rect x="647.6" y="554.6" width="37" height="36.5" fill="#C6C4C3"/>
<text x="699.70" y="579.80" font-size="25.5" font-weight="bold" text-anchor="start" fill="#000" textLength="128.10" lengthAdjust="spacingAndGlyphs" stroke="#000" stroke-width="0.3">Qualitative</text>
<rect x="855.2" y="554.6" width="37" height="36.5" fill="#0C0B08"/>
<text x="909.40" y="579.80" font-size="25.5" font-weight="bold" text-anchor="start" fill="#000" textLength="144.90" lengthAdjust="spacingAndGlyphs" stroke="#000" stroke-width="0.3">Quantitative</text>
<rect x="183.9" y="664.6" width="517.7" height="515.9999999999999" fill="#fff"/>
<line x1="255.38" y1="666.8000000000001" x2="255.38" y2="1178.3999999999999" stroke="#F2F2F2" stroke-width="1.4"/>
<line x1="351.92" y1="666.8000000000001" x2="351.92" y2="1178.3999999999999" stroke="#F2F2F2" stroke-width="1.4"/>
<line x1="448.48" y1="666.8000000000001" x2="448.48" y2="1178.3999999999999" stroke="#F2F2F2" stroke-width="1.4"/>
<line x1="545.02" y1="666.8000000000001" x2="545.02" y2="1178.3999999999999" stroke="#F2F2F2" stroke-width="1.4"/>
<line x1="641.57" y1="666.8000000000001" x2="641.57" y2="1178.3999999999999" stroke="#F2F2F2" stroke-width="1.4"/>
<line x1="207.10" y1="666.8000000000001" x2="207.10" y2="1178.3999999999999" stroke="#EDEDED" stroke-width="1.8"/>
<line x1="303.65" y1="666.8000000000001" x2="303.65" y2="1178.3999999999999" stroke="#EDEDED" stroke-width="1.8"/>
<line x1="400.20" y1="666.8000000000001" x2="400.20" y2="1178.3999999999999" stroke="#EDEDED" stroke-width="1.8"/>
<line x1="496.75" y1="666.8000000000001" x2="496.75" y2="1178.3999999999999" stroke="#EDEDED" stroke-width="1.8"/>
<line x1="593.30" y1="666.8000000000001" x2="593.30" y2="1178.3999999999999" stroke="#EDEDED" stroke-width="1.8"/>
<line x1="689.85" y1="666.8000000000001" x2="689.85" y2="1178.3999999999999" stroke="#EDEDED" stroke-width="1.8"/>
<line x1="186.5" y1="682.50" x2="699.0" y2="682.50" stroke="#ECECEC" stroke-width="2"/>
<line x1="186.5" y1="712.57" x2="699.0" y2="712.57" stroke="#ECECEC" stroke-width="2"/>
<line x1="186.5" y1="742.64" x2="699.0" y2="742.64" stroke="#ECECEC" stroke-width="2"/>
<line x1="186.5" y1="772.71" x2="699.0" y2="772.71" stroke="#ECECEC" stroke-width="2"/>
<line x1="186.5" y1="802.78" x2="699.0" y2="802.78" stroke="#ECECEC" stroke-width="2"/>
<line x1="186.5" y1="832.85" x2="699.0" y2="832.85" stroke="#ECECEC" stroke-width="2"/>
<line x1="186.5" y1="862.92" x2="699.0" y2="862.92" stroke="#ECECEC" stroke-width="2"/>
<line x1="186.5" y1="892.99" x2="699.0" y2="892.99" stroke="#ECECEC" stroke-width="2"/>
<line x1="186.5" y1="923.06" x2="699.0" y2="923.06" stroke="#ECECEC" stroke-width="2"/>
<line x1="186.5" y1="953.13" x2="699.0" y2="953.13" stroke="#ECECEC" stroke-width="2"/>
<line x1="186.5" y1="983.20" x2="699.0" y2="983.20" stroke="#ECECEC" stroke-width="2"/>
<line x1="186.5" y1="1013.27" x2="699.0" y2="1013.27" stroke="#ECECEC" stroke-width="2"/>
<line x1="186.5" y1="1043.34" x2="699.0" y2="1043.34" stroke="#ECECEC" stroke-width="2"/>
<line x1="186.5" y1="1073.41" x2="699.0" y2="1073.41" stroke="#ECECEC" stroke-width="2"/>
<line x1="186.5" y1="1103.48" x2="699.0" y2="1103.48" stroke="#ECECEC" stroke-width="2"/>
<line x1="186.5" y1="1133.55" x2="699.0" y2="1133.55" stroke="#ECECEC" stroke-width="2"/>
<line x1="186.5" y1="1163.62" x2="699.0" y2="1163.62" stroke="#ECECEC" stroke-width="2"/>
<rect x="205.30" y="667.20" width="244.97" height="30.6" fill="#fff"/>
<rect x="205.30" y="697.27" width="264.29" height="30.6" fill="#fff"/>
<rect x="205.30" y="727.34" width="190.33" height="30.6" fill="#fff"/>
<rect x="205.30" y="757.41" width="184.15" height="30.6" fill="#fff"/>
<rect x="205.30" y="787.48" width="184.53" height="30.6" fill="#fff"/>
<rect x="205.30" y="817.55" width="320.28" height="30.6" fill="#fff"/>
<rect x="205.30" y="847.62" width="192.45" height="30.6" fill="#fff"/>
<rect x="205.30" y="877.69" width="232.81" height="30.6" fill="#fff"/>
<rect x="205.30" y="907.76" width="227.98" height="30.6" fill="#fff"/>
<rect x="205.30" y="937.83" width="197.67" height="30.6" fill="#fff"/>
<rect x="205.30" y="967.90" width="236.67" height="30.6" fill="#fff"/>
<rect x="205.30" y="997.97" width="186.08" height="30.6" fill="#fff"/>
<rect x="205.30" y="1028.04" width="251.15" height="30.6" fill="#fff"/>
<rect x="205.30" y="1058.11" width="285.91" height="30.6" fill="#fff"/>
<rect x="205.30" y="1088.18" width="227.60" height="30.6" fill="#fff"/>
<rect x="205.30" y="1118.25" width="214.66" height="30.6" fill="#fff"/>
<rect x="205.30" y="1148.32" width="183.18" height="30.6" fill="#fff"/>
<rect x="207.10" y="669.00" width="241.38" height="27.0" fill="#0C0B08"/>
<rect x="207.10" y="699.07" width="260.69" height="27.0" fill="#0C0B08"/>
<rect x="207.10" y="729.14" width="186.73" height="27.0" fill="#0C0B08"/>
<rect x="207.10" y="759.21" width="180.55" height="27.0" fill="#0C0B08"/>
<rect x="207.10" y="789.28" width="180.93" height="27.0" fill="#0C0B08"/>
<rect x="207.10" y="819.35" width="316.68" height="27.0" fill="#0C0B08"/>
<rect x="207.10" y="849.42" width="188.85" height="27.0" fill="#C6C4C3"/>
<rect x="207.10" y="879.49" width="229.21" height="27.0" fill="#0C0B08"/>
<rect x="207.10" y="909.56" width="224.38" height="27.0" fill="#0C0B08"/>
<rect x="207.10" y="939.63" width="194.07" height="27.0" fill="#C6C4C3"/>
<rect x="207.10" y="969.70" width="233.07" height="27.0" fill="#0C0B08"/>
<rect x="207.10" y="999.77" width="182.48" height="27.0" fill="#0C0B08"/>
<rect x="207.10" y="1029.84" width="247.55" height="27.0" fill="#C6C4C3"/>
<rect x="207.10" y="1059.91" width="282.31" height="27.0" fill="#0C0B08"/>
<rect x="207.10" y="1089.98" width="224.00" height="27.0" fill="#0C0B08"/>
<rect x="207.10" y="1120.05" width="211.06" height="27.0" fill="#0C0B08"/>
<rect x="207.10" y="1150.12" width="179.58" height="27.0" fill="#0C0B08"/>
<rect x="183.9" y="664.6" width="517.7" height="515.9999999999999" fill="none" stroke="#3A3534" stroke-width="1.3"/>
<line x1="179.1" y1="682.50" x2="183.9" y2="682.50" stroke="#2B2624" stroke-width="2"/>
<line x1="179.1" y1="712.57" x2="183.9" y2="712.57" stroke="#2B2624" stroke-width="2"/>
<line x1="179.1" y1="742.64" x2="183.9" y2="742.64" stroke="#2B2624" stroke-width="2"/>
<line x1="179.1" y1="772.71" x2="183.9" y2="772.71" stroke="#2B2624" stroke-width="2"/>
<line x1="179.1" y1="802.78" x2="183.9" y2="802.78" stroke="#2B2624" stroke-width="2"/>
<line x1="179.1" y1="832.85" x2="183.9" y2="832.85" stroke="#2B2624" stroke-width="2"/>
<line x1="179.1" y1="862.92" x2="183.9" y2="862.92" stroke="#2B2624" stroke-width="2"/>
<line x1="179.1" y1="892.99" x2="183.9" y2="892.99" stroke="#2B2624" stroke-width="2"/>
<line x1="179.1" y1="923.06" x2="183.9" y2="923.06" stroke="#2B2624" stroke-width="2"/>
<line x1="179.1" y1="953.13" x2="183.9" y2="953.13" stroke="#2B2624" stroke-width="2"/>
<line x1="179.1" y1="983.20" x2="183.9" y2="983.20" stroke="#2B2624" stroke-width="2"/>
<line x1="179.1" y1="1013.27" x2="183.9" y2="1013.27" stroke="#2B2624" stroke-width="2"/>
<line x1="179.1" y1="1043.34" x2="183.9" y2="1043.34" stroke="#2B2624" stroke-width="2"/>
<line x1="179.1" y1="1073.41" x2="183.9" y2="1073.41" stroke="#2B2624" stroke-width="2"/>
<line x1="179.1" y1="1103.48" x2="183.9" y2="1103.48" stroke="#2B2624" stroke-width="2"/>
<line x1="179.1" y1="1133.55" x2="183.9" y2="1133.55" stroke="#2B2624" stroke-width="2"/>
<line x1="179.1" y1="1163.62" x2="183.9" y2="1163.62" stroke="#2B2624" stroke-width="2"/>
<line x1="207.10" y1="1180.6" x2="207.10" y2="1186.3999999999999" stroke="#2B2624" stroke-width="2"/>
<text x="207.10" y="1211.50" font-size="25" font-weight="bold" text-anchor="middle" fill="#000" stroke="#000" stroke-width="0.45">0.0</text>
<line x1="303.65" y1="1180.6" x2="303.65" y2="1186.3999999999999" stroke="#2B2624" stroke-width="2"/>
<text x="303.65" y="1211.50" font-size="25" font-weight="bold" text-anchor="middle" fill="#000" stroke="#000" stroke-width="0.45">0.5</text>
<line x1="400.20" y1="1180.6" x2="400.20" y2="1186.3999999999999" stroke="#2B2624" stroke-width="2"/>
<text x="400.20" y="1211.50" font-size="25" font-weight="bold" text-anchor="middle" fill="#000" stroke="#000" stroke-width="0.45">1.0</text>
<line x1="496.75" y1="1180.6" x2="496.75" y2="1186.3999999999999" stroke="#2B2624" stroke-width="2"/>
<text x="496.75" y="1211.50" font-size="25" font-weight="bold" text-anchor="middle" fill="#000" stroke="#000" stroke-width="0.45">1.5</text>
<line x1="593.30" y1="1180.6" x2="593.30" y2="1186.3999999999999" stroke="#2B2624" stroke-width="2"/>
<text x="593.30" y="1211.50" font-size="25" font-weight="bold" text-anchor="middle" fill="#000" stroke="#000" stroke-width="0.45">2.0</text>
<line x1="689.85" y1="1180.6" x2="689.85" y2="1186.3999999999999" stroke="#2B2624" stroke-width="2"/>
<text x="689.85" y="1211.50" font-size="25" font-weight="bold" text-anchor="middle" fill="#000" stroke="#000" stroke-width="0.45">2.5</text>
<rect x="734.8" y="667.1" width="516.8" height="516.1999999999999" fill="#fff"/>
<line x1="831.80" y1="669.3000000000001" x2="831.80" y2="1181.1" stroke="#F2F2F2" stroke-width="1.4"/>
<line x1="980.60" y1="669.3000000000001" x2="980.60" y2="1181.1" stroke="#F2F2F2" stroke-width="1.4"/>
<line x1="1129.40" y1="669.3000000000001" x2="1129.40" y2="1181.1" stroke="#F2F2F2" stroke-width="1.4"/>
<line x1="757.40" y1="669.3000000000001" x2="757.40" y2="1181.1" stroke="#EDEDED" stroke-width="1.8"/>
<line x1="906.20" y1="669.3000000000001" x2="906.20" y2="1181.1" stroke="#EDEDED" stroke-width="1.8"/>
<line x1="1055.00" y1="669.3000000000001" x2="1055.00" y2="1181.1" stroke="#EDEDED" stroke-width="1.8"/>
<line x1="1203.80" y1="669.3000000000001" x2="1203.80" y2="1181.1" stroke="#EDEDED" stroke-width="1.8"/>
<line x1="737.4" y1="684.90" x2="1249.0" y2="684.90" stroke="#ECECEC" stroke-width="2"/>
<line x1="737.4" y1="714.97" x2="1249.0" y2="714.97" stroke="#ECECEC" stroke-width="2"/>
<line x1="737.4" y1="745.04" x2="1249.0" y2="745.04" stroke="#ECECEC" stroke-width="2"/>
<line x1="737.4" y1="775.11" x2="1249.0" y2="775.11" stroke="#ECECEC" stroke-width="2"/>
<line x1="737.4" y1="805.18" x2="1249.0" y2="805.18" stroke="#ECECEC" stroke-width="2"/>
<line x1="737.4" y1="835.25" x2="1249.0" y2="835.25" stroke="#ECECEC" stroke-width="2"/>
<line x1="737.4" y1="865.32" x2="1249.0" y2="865.32" stroke="#ECECEC" stroke-width="2"/>
<line x1="737.4" y1="895.39" x2="1249.0" y2="895.39" stroke="#ECECEC" stroke-width="2"/>
<line x1="737.4" y1="925.46" x2="1249.0" y2="925.46" stroke="#ECECEC" stroke-width="2"/>
<line x1="737.4" y1="955.53" x2="1249.0" y2="955.53" stroke="#ECECEC" stroke-width="2"/>
<line x1="737.4" y1="985.60" x2="1249.0" y2="985.60" stroke="#ECECEC" stroke-width="2"/>
<line x1="737.4" y1="1015.67" x2="1249.0" y2="1015.67" stroke="#ECECEC" stroke-width="2"/>
<line x1="737.4" y1="1045.74" x2="1249.0" y2="1045.74" stroke="#ECECEC" stroke-width="2"/>
<line x1="737.4" y1="1075.81" x2="1249.0" y2="1075.81" stroke="#ECECEC" stroke-width="2"/>
<line x1="737.4" y1="1105.88" x2="1249.0" y2="1105.88" stroke="#ECECEC" stroke-width="2"/>
<line x1="737.4" y1="1135.95" x2="1249.0" y2="1135.95" stroke="#ECECEC" stroke-width="2"/>
<line x1="737.4" y1="1166.02" x2="1249.0" y2="1166.02" stroke="#ECECEC" stroke-width="2"/>
<rect x="755.60" y="669.60" width="228.59" height="30.6" fill="#fff"/>
<rect x="755.60" y="699.67" width="187.81" height="30.6" fill="#fff"/>
<rect x="755.60" y="729.74" width="356.40" height="30.6" fill="#fff"/>
<rect x="755.60" y="759.81" width="289.59" height="30.6" fill="#fff"/>
<rect x="755.60" y="789.88" width="206.41" height="30.6" fill="#fff"/>
<rect x="755.60" y="819.95" width="202.99" height="30.6" fill="#fff"/>
<rect x="755.60" y="850.02" width="167.28" height="30.6" fill="#fff"/>
<rect x="755.60" y="880.09" width="232.01" height="30.6" fill="#fff"/>
<rect x="755.60" y="910.16" width="142.58" height="30.6" fill="#fff"/>
<rect x="755.60" y="940.23" width="111.78" height="30.6" fill="#fff"/>
<rect x="755.60" y="970.30" width="166.98" height="30.6" fill="#fff"/>
<rect x="755.60" y="1000.37" width="146.60" height="30.6" fill="#fff"/>
<rect x="755.60" y="1030.44" width="340.78" height="30.6" fill="#fff"/>
<rect x="755.60" y="1060.51" width="173.98" height="30.6" fill="#fff"/>
<rect x="755.60" y="1090.58" width="316.82" height="30.6" fill="#fff"/>
<rect x="755.60" y="1120.65" width="151.21" height="30.6" fill="#fff"/>
<rect x="755.60" y="1150.72" width="258.79" height="30.6" fill="#fff"/>
<rect x="757.40" y="671.40" width="224.99" height="27.0" fill="#0C0B08"/>
<rect x="757.40" y="701.47" width="184.21" height="27.0" fill="#0C0B08"/>
<rect x="757.40" y="731.54" width="352.80" height="27.0" fill="#C6C4C3"/>
<rect x="757.40" y="761.61" width="285.99" height="27.0" fill="#C6C4C3"/>
<rect x="757.40" y="791.68" width="202.81" height="27.0" fill="#0C0B08"/>
<rect x="757.40" y="821.75" width="199.39" height="27.0" fill="#0C0B08"/>
<rect x="757.40" y="851.82" width="163.68" height="27.0" fill="#C6C4C3"/>
<rect x="757.40" y="881.89" width="228.41" height="27.0" fill="#0C0B08"/>
<rect x="757.40" y="911.96" width="138.98" height="27.0" fill="#C6C4C3"/>
<rect x="757.40" y="942.03" width="108.18" height="27.0" fill="#0C0B08"/>
<rect x="757.40" y="972.10" width="163.38" height="27.0" fill="#0C0B08"/>
<rect x="757.40" y="1002.17" width="143.00" height="27.0" fill="#0C0B08"/>
<rect x="757.40" y="1032.24" width="337.18" height="27.0" fill="#0C0B08"/>
<rect x="757.40" y="1062.31" width="170.38" height="27.0" fill="#C6C4C3"/>
<rect x="757.40" y="1092.38" width="313.22" height="27.0" fill="#0C0B08"/>
<rect x="757.40" y="1122.45" width="147.61" height="27.0" fill="#0C0B08"/>
<rect x="757.40" y="1152.52" width="255.19" height="27.0" fill="#0C0B08"/>
<rect x="734.8" y="667.1" width="516.8" height="516.1999999999999" fill="none" stroke="#3A3534" stroke-width="1.3"/>
<line x1="730.0" y1="684.90" x2="734.8" y2="684.90" stroke="#2B2624" stroke-width="2"/>
<line x1="730.0" y1="714.97" x2="734.8" y2="714.97" stroke="#2B2624" stroke-width="2"/>
<line x1="730.0" y1="745.04" x2="734.8" y2="745.04" stroke="#2B2624" stroke-width="2"/>
<line x1="730.0" y1="775.11" x2="734.8" y2="775.11" stroke="#2B2624" stroke-width="2"/>
<line x1="730.0" y1="805.18" x2="734.8" y2="805.18" stroke="#2B2624" stroke-width="2"/>
<line x1="730.0" y1="835.25" x2="734.8" y2="835.25" stroke="#2B2624" stroke-width="2"/>
<line x1="730.0" y1="865.32" x2="734.8" y2="865.32" stroke="#2B2624" stroke-width="2"/>
<line x1="730.0" y1="895.39" x2="734.8" y2="895.39" stroke="#2B2624" stroke-width="2"/>
<line x1="730.0" y1="925.46" x2="734.8" y2="925.46" stroke="#2B2624" stroke-width="2"/>
<line x1="730.0" y1="955.53" x2="734.8" y2="955.53" stroke="#2B2624" stroke-width="2"/>
<line x1="730.0" y1="985.60" x2="734.8" y2="985.60" stroke="#2B2624" stroke-width="2"/>
<line x1="730.0" y1="1015.67" x2="734.8" y2="1015.67" stroke="#2B2624" stroke-width="2"/>
<line x1="730.0" y1="1045.74" x2="734.8" y2="1045.74" stroke="#2B2624" stroke-width="2"/>
<line x1="730.0" y1="1075.81" x2="734.8" y2="1075.81" stroke="#2B2624" stroke-width="2"/>
<line x1="730.0" y1="1105.88" x2="734.8" y2="1105.88" stroke="#2B2624" stroke-width="2"/>
<line x1="730.0" y1="1135.95" x2="734.8" y2="1135.95" stroke="#2B2624" stroke-width="2"/>
<line x1="730.0" y1="1166.02" x2="734.8" y2="1166.02" stroke="#2B2624" stroke-width="2"/>
<line x1="757.40" y1="1183.3" x2="757.40" y2="1189.1" stroke="#2B2624" stroke-width="2"/>
<text x="757.40" y="1211.50" font-size="25" font-weight="bold" text-anchor="middle" fill="#000" stroke="#000" stroke-width="0.45">0</text>
<line x1="906.20" y1="1183.3" x2="906.20" y2="1189.1" stroke="#2B2624" stroke-width="2"/>
<text x="906.20" y="1211.50" font-size="25" font-weight="bold" text-anchor="middle" fill="#000" stroke="#000" stroke-width="0.45">1</text>
<line x1="1055.00" y1="1183.3" x2="1055.00" y2="1189.1" stroke="#2B2624" stroke-width="2"/>
<text x="1055.00" y="1211.50" font-size="25" font-weight="bold" text-anchor="middle" fill="#000" stroke="#000" stroke-width="0.45">2</text>
<line x1="1203.80" y1="1183.3" x2="1203.80" y2="1189.1" stroke="#2B2624" stroke-width="2"/>
<text x="1203.80" y="1211.50" font-size="25" font-weight="bold" text-anchor="middle" fill="#000" stroke="#000" stroke-width="0.45">3</text>
<text x="170.60" y="688.40" font-size="25" font-weight="bold" text-anchor="end" fill="#000" stroke="#000" stroke-width="0.45">IL-2</text>
<text x="170.60" y="718.62" font-size="25" font-weight="bold" text-anchor="end" fill="#000" stroke="#000" stroke-width="0.45">IL-3</text>
<text x="170.60" y="748.84" font-size="25" font-weight="bold" text-anchor="end" fill="#000" stroke="#000" stroke-width="0.45">IL-4</text>
<text x="170.60" y="779.06" font-size="25" font-weight="bold" text-anchor="end" fill="#000" stroke="#000" stroke-width="0.45">IL-5</text>
<text x="170.60" y="809.28" font-size="25" font-weight="bold" text-anchor="end" fill="#000" stroke="#000" stroke-width="0.45">IL-6</text>
<text x="170.60" y="839.50" font-size="25" font-weight="bold" text-anchor="end" fill="#000" stroke="#000" stroke-width="0.45">IL-9</text>
<text x="170.60" y="869.72" font-size="25" font-weight="bold" text-anchor="end" fill="#000" stroke="#000" stroke-width="0.45">IL-10</text>
<text x="170.60" y="899.94" font-size="25" font-weight="bold" text-anchor="end" fill="#000" stroke="#000" stroke-width="0.45">IL-13</text>
<text x="170.60" y="930.16" font-size="25" font-weight="bold" text-anchor="end" fill="#000" stroke="#000" stroke-width="0.45">IL-17A</text>
<text x="170.60" y="960.38" font-size="25" font-weight="bold" text-anchor="end" fill="#000" stroke="#000" stroke-width="0.45">IL-17F</text>
<text x="170.60" y="990.60" font-size="25" font-weight="bold" text-anchor="end" fill="#000" stroke="#000" stroke-width="0.45">IL-21</text>
<text x="170.60" y="1020.82" font-size="25" font-weight="bold" text-anchor="end" fill="#000" stroke="#000" stroke-width="0.45">IL-22</text>
<text x="170.60" y="1051.04" font-size="25" font-weight="bold" text-anchor="end" fill="#000" stroke="#000" stroke-width="0.45">IL-31</text>
<text x="170.60" y="1081.26" font-size="25" font-weight="bold" text-anchor="end" fill="#000" stroke="#000" stroke-width="0.45">IFNγ</text>
<text x="170.60" y="1111.48" font-size="25" font-weight="bold" text-anchor="end" fill="#000" stroke="#000" stroke-width="0.45">GM-CSF</text>
<text x="170.60" y="1141.70" font-size="25" font-weight="bold" text-anchor="end" fill="#000" stroke="#000" stroke-width="0.45">TNF-α</text>
<text x="170.60" y="1171.92" font-size="25" font-weight="bold" text-anchor="end" fill="#000" stroke="#000" stroke-width="0.45">TNF-β</text>
<text x="1155.50" y="757.04" font-size="25.2" font-weight="normal" text-anchor="middle" fill="#000" stroke="#000" stroke-width="0.3">**</text>
<text x="1088.00" y="787.11" font-size="25.2" font-weight="normal" text-anchor="middle" fill="#000" stroke="#000" stroke-width="0.3">*</text>
<text x="1140.50" y="1057.74" font-size="25.2" font-weight="normal" text-anchor="middle" fill="#000" stroke="#000" stroke-width="0.3">***</text>
<text x="1115.00" y="1117.88" font-size="25.2" font-weight="normal" text-anchor="middle" fill="#000" stroke="#000" stroke-width="0.3">*</text>
<text x="551.00" y="1259.00" font-size="26" font-weight="bold" text-anchor="start" fill="#000" textLength="327.70" lengthAdjust="spacingAndGlyphs" stroke="#000" stroke-width="0.3">Context−dependency score</text>
</svg></body></html>
